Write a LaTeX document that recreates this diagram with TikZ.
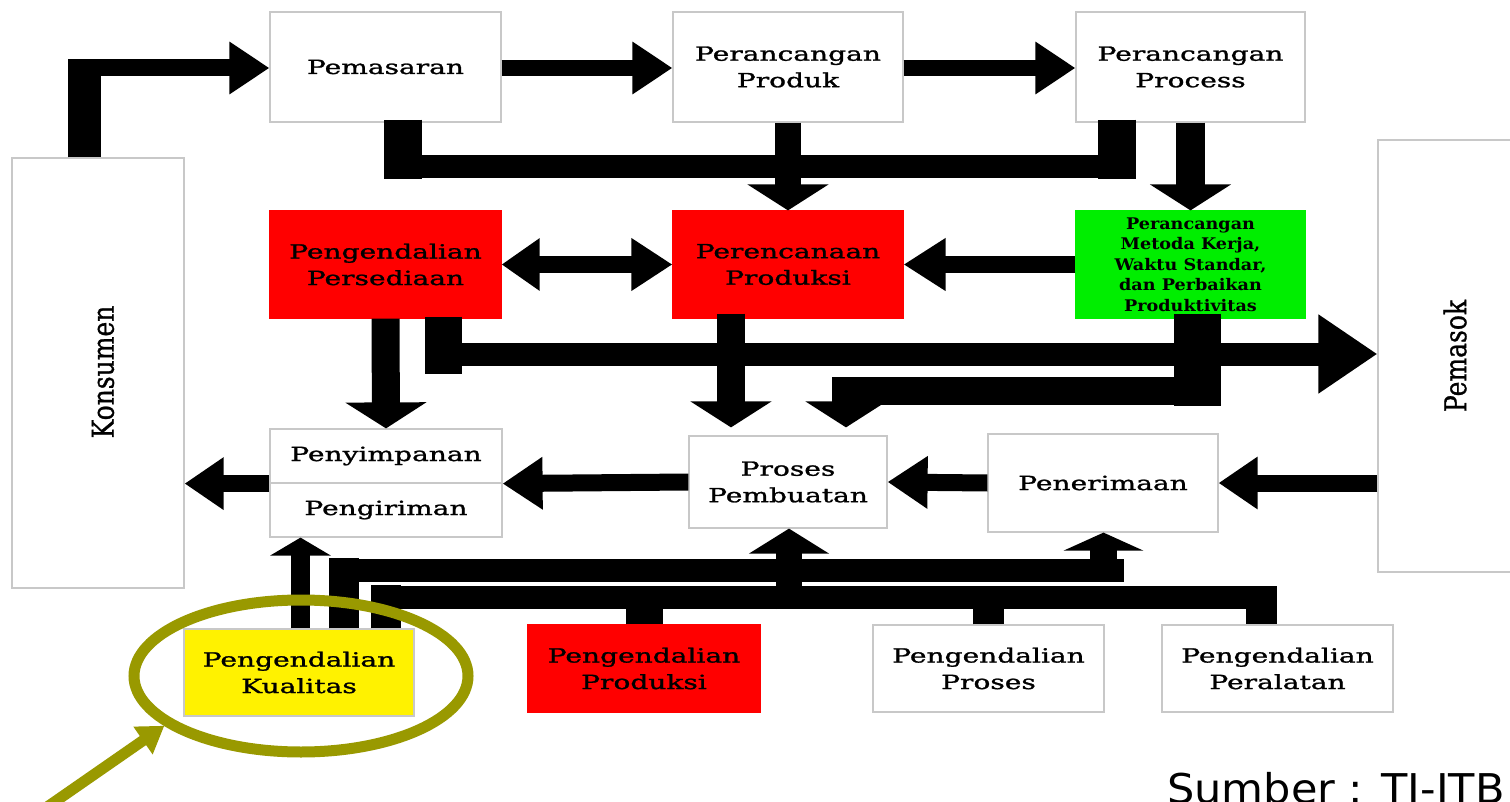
\documentclass[tikz,border=0pt]{standalone}
\usepackage{fontspec}
\usetikzlibrary{arrows.meta,shapes.geometric,calc}
\newfontfamily\boxfont{DejaVu Serif}[FakeStretch=1.44,FakeBold=1.3]
\newfontfamily\greenfont{DejaVu Serif Bold}[FakeStretch=1.1]
\newfontfamily\plainfont{DejaVu Serif}[FakeBold=1.0]
\newfontfamily\srcfont{DejaVu Sans}
\definecolor{olv}{RGB}{153,153,0}
\definecolor{bord}{RGB}{200,200,200}
\definecolor{grn}{RGB}{0,238,0}
\begin{document}
\begin{tikzpicture}[x=1pt,y=-1pt,
  box/.style={draw=bord, line width=1.2pt, fill=white, inner sep=0pt, align=center,
              font=\boxfont\fontsize{19.5}{26.5}\selectfont},
  redbox/.style={box, fill=red, draw=red},
  bar/.style={draw=black, line width=#1},
  ha/.style={-{Triangle[length=40pt,width=50pt]}},
  va/.style={-{Triangle[length=26pt,width=80pt]}},
  vlabel/.style={rotate=90, inner sep=0pt, font=\plainfont\fontsize{25}{30}\selectfont}]
\useasboundingbox (0,0) rectangle (1510,802);
\fill[white] (0,0) rectangle (1510,802);

% ---------- boxes ----------
\node[box, minimum width=172pt, minimum height=430pt] (kons) at (98,373) {};
\node[vlabel] (konsT) at (103,372) {\scalebox{1}[1.2]{Konsumen}};
\node[box, minimum width=154pt, minimum height=432pt] (pmsk) at (1455,356) {};
\node[vlabel] (pmskT) at (1455,356) {\scalebox{1}[1.2]{Pemasok}};

\node[box, minimum width=231pt, minimum height=110pt] (pem)  at (385.5,67) {Pemasaran};
\node[box, minimum width=230pt, minimum height=110pt] (prod) at (788,67) {Perancangan\\Produk};
\node[box, minimum width=229pt, minimum height=110pt] (proc) at (1190.5,67) {Perancangan\\Process};

\node[redbox, minimum width=231pt, minimum height=107pt] (pers) at (385.5,264.5) {Pengendalian\\Persediaan};
\node[redbox, minimum width=230pt, minimum height=107pt] (pren) at (788,264.5) {Perencanaan\\Produksi};
\node[box, fill=grn, draw=grn, minimum width=229pt, minimum height=107pt,
      font=\greenfont\fontsize{16}{20.5}\selectfont] (green) at (1190.5,264.5)
      {Perancangan\\Metoda Kerja,\\Waktu Standar,\\dan Perbaikan\\Produktivitas};

\node[box, minimum width=232pt, minimum height=54pt] (peny) at (386,456) {Penyimpanan};
\node[box, minimum width=232pt, minimum height=54pt] (peng) at (386,510) {Pengiriman};
\node[box, minimum width=198pt, minimum height=92pt] (proses) at (788,482) {Proses\\Pembuatan};
\node[box, minimum width=230pt, minimum height=98pt] (pener) at (1103,483) {Penerimaan};

\node[box, fill=yellow, minimum width=230pt, minimum height=87pt] (kual) at (299,672.5) {Pengendalian\\Kualitas};
\node[redbox, minimum width=232pt, minimum height=87pt] (pprod) at (644,668.5) {Pengendalian\\Produksi};
\node[box, minimum width=231pt, minimum height=87pt] (pproses) at (988.5,668.5) {Pengendalian\\Proses};
\node[box, minimum width=231pt, minimum height=87pt] (pperal) at (1277.5,668.5) {Pengendalian\\Peralatan};

% ---------- connectors ----------
% Konsumen -> Pemasaran
\draw[bar=33pt] ([xshift=-13.5pt]kons.north) -- ++(0,-98);
\coordinate (a1) at (68,68);
\draw[bar=17pt, ha] (a1) -- ([yshift=-1pt]pem.west);
% top row
\draw[bar=16pt, ha] ([yshift=-1pt]pem.east) -- ([yshift=-1pt]prod.west);
\draw[bar=16pt, ha] ([yshift=-1pt]prod.east) -- ([yshift=-1pt]proc.west);
% U connector Pemasaran / Process
\draw[bar=38pt] ([xshift=17.5pt,yshift=3pt]pem.south) -- ++(0,59);
\coordinate (u1) at (384,166.5);
\coordinate (u2) at (1136,166.5);
\draw[bar=23pt] (u1) -- (u2);
\draw[bar=38pt] ([xshift=-73.5pt,yshift=3pt]proc.south) -- ++(0,59);
% down arrows to middle row
\draw[bar=26pt, va] (prod.south) -- (pren.north);
\draw[bar=29pt, va] (proc.south) -- (green.north);
% middle row horizontals
\draw[bar=17pt, {Triangle[length=38pt,width=50pt]}-{Triangle[length=41pt,width=50pt]}] (pers.east) -- (pren.west);
\draw[bar=17pt, -{Triangle[length=42pt,width=50pt]}] (green.west) -- (pren.east);
% Persediaan -> Penyimpanan
\draw[bar=28pt, va] (pers.south) -- (peny.north);
% Persediaan -> Pemasok
\draw[bar=37pt] ([xshift=58pt,yshift=2pt]pers.south) -- ++(0,57);
\coordinate (j1) at (425,354);
\draw[bar=23pt, -{Triangle[length=59pt,width=75pt]}] (j1) -- ([yshift=2pt]pmsk.west);
% Perencanaan -> Proses
\draw[bar=28pt, va] ([xshift=-57pt,yshift=5pt]pren.south) -- ([xshift=-57pt,yshift=8pt]proses.north);
% Metoda -> Proses
\draw[bar=47pt] ([xshift=7pt,yshift=5pt]green.south) -- ++(0,92);
\coordinate (l1) at (1221,391);
\draw[bar=28pt, va] (l1) -| ([xshift=58pt,yshift=8pt]proses.north);
% lower flow row
\draw[bar=17pt, ha] (proses.west) -- (peny.south east);
\draw[bar=17pt, -{Triangle[length=39pt,width=50pt]}] (peny.south west) -- (kons.east |- peny.south west);
\draw[bar=17pt, ha] (pener.west) -- (proses.east);
\draw[bar=17pt, -{Triangle[length=39pt,width=50pt]}] (pmsk.west |- pener.east) -- (pener.east);
% Kualitas -> Pengiriman
\draw[bar=19pt, -{Triangle[length=18pt,width=60pt]}] ([xshift=1.5pt]kual.north) -- ([xshift=1.5pt]kual.north |- peng.south);
% upper bottom bar
\draw[bar=30pt] ([xshift=45pt]kual.north) -- ++(0,-70);
\coordinate (r1) at (329,570.5);
\coordinate (r2) at (1124,570.5);
\draw[bar=23pt] (r1) -- (r2);
\coordinate (r3) at (789,609);
\draw[bar=26pt, -{Triangle[length=25pt,width=79pt]}] (r3) -- ([xshift=1pt]proses.south);
\coordinate (r4) at (1103.5,575);
\draw[bar=27pt, -{Triangle[length=18pt,width=79pt]}] (r4) -- ([xshift=0.5pt]pener.south);
% lower bottom bar
\draw[bar=30pt] ([xshift=87pt]kual.north) -- ++(0,-43);
\coordinate (s1) at (371,597.5);
\coordinate (s2) at (1277,597.5);
\draw[bar=23pt] (s1) -- (s2);
\coordinate (s3) at (1261.5,586);
\draw[bar=31pt] (s3) -- ([xshift=-16pt]pperal.north);
\draw[bar=37pt] (pprod.north) -- ++(0,-16);
\draw[bar=31pt] (pproses.north) -- ++(0,-16);

% ---------- highlight ----------
\node[ellipse, draw=olv, line width=11pt, minimum width=334pt, minimum height=152pt, inner sep=0pt] (ring) at (301,676) {};
\coordinate (ptr) at (40,812);
\draw[draw=olv, line width=11pt, -{Triangle[length=26pt,width=32pt]}] (ptr) -- (ring.200);

% ---------- source ----------
\node[anchor=base west, inner sep=0pt, font=\srcfont\fontsize{41}{44}\selectfont] (src) at (1167,803) {\scalebox{1.05}[1]{Sumber : TI-ITB}};
\end{tikzpicture}
\end{document}
